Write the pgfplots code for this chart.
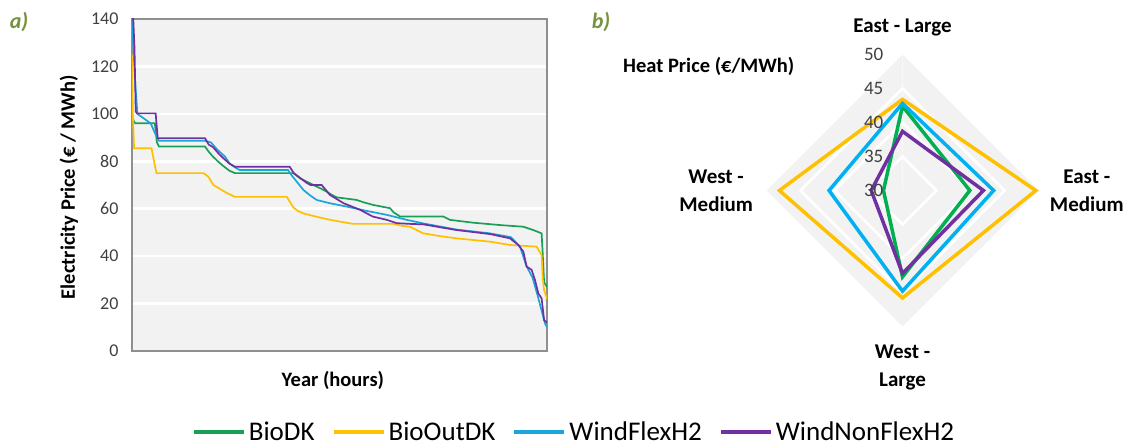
\documentclass[border=0pt]{standalone}
\usepackage{fontspec}
\setmainfont{Carlito}
\usepackage{pgfplots}
\usepackage{pgfplotstable}
\pgfplotsset{compat=1.18}

\definecolor{cGreen}{HTML}{00B050}
\definecolor{cYellow}{HTML}{FFC000}
\definecolor{cBlue}{HTML}{00B0F0}
\definecolor{cPurple}{HTML}{7030A0}
\definecolor{cOlive}{HTML}{76923C}
\definecolor{cBack}{HTML}{F2F2F2}
\definecolor{cBorder}{HTML}{8F8F8F}
\definecolor{cTick}{HTML}{404040}

\pgfplotstableread{
cat a BioDK BioOutDK WindFlexH2 WindNonFlexH2
EL 90 42.4 43.4 42.8 38.7
EM 0 39.9 49.6 43.4 41.9
WL 270 42.7 45.8 44.8 42.2
WM 180 32.8 48.1 40.8 34.6
}\radar

\tikzset{rlab/.style={anchor=east, inner sep=0pt, xshift=-19pt, font=\fontsize{19}{21}\selectfont, text=cTick}}

\begin{document}
\begin{tikzpicture}[x=1pt,y=1pt]
\node[font=\fontsize{22}{24}\selectfont\bfseries\itshape, text=cOlive] at (19,424) {a)};
\node[font=\fontsize{22}{24}\selectfont\bfseries\itshape, text=cOlive] at (601,424) {b)};

\begin{axis}[
  at={(132pt,95pt)}, anchor=south west,
  width=415pt, height=332pt, scale only axis,
  xmin=0, xmax=100, ymin=0, ymax=140,
  set layers,
  axis background/.style={fill=cBack},
  axis line style={cBorder, line width=1.8pt},
  xtick=\empty,
  ytick={0,20,...,140},
  major tick length=0pt,
  extra y ticks={20,40,...,120},
  extra y tick labels={},
  extra y tick style={grid=major},
  major grid style={white, line width=2.5pt},
  yticklabel style={font=\fontsize{18}{20}\selectfont, text=cTick, xshift=-10pt},
  /pgf/number format/assume math mode=true,
  xlabel={Year (hours)}, ylabel={Electricity Price (€ / MWh)},
  every axis x label/.style={at={(axis description cs:0.484,-0.09)}, anchor=center, font=\fontsize{20.5}{24}\selectfont\bfseries},
  every axis y label/.style={at={(axis description cs:-0.152,0.493)}, rotate=90, anchor=center, font=\fontsize{20.5}{24}\selectfont\bfseries},
  legend columns=4,
  legend style={at={(axis description cs:1.0639,-0.243)}, anchor=center, draw=none, fill=none,
    font=\fontsize{27}{29}\selectfont, nodes={inner sep=1pt},
    /tikz/every even column/.append style={column sep=16pt},
    /tikz/every odd column/.append style={column sep=2pt}},
  legend image code/.code={\draw[#1, line width=4pt] (0pt,0pt) -- (50pt,0pt);},
]
\addplot[cGreen!85!black!90, line width=1.7pt] coordinates {
(0,100) (0.4,97) (0.8,96) (5.5,96) (6.0,88) (6.5,86.2) (17.6,86.2) (18.5,84) (19.5,82) (20.8,79.8) (22,78) (23.5,76) (24.8,75) (38.9,75) (40.5,72.8) (42,71.5) (43.7,70) (45.5,68.5) (46.9,67.2) (48,66) (49.3,64.8) (54.1,63.7) (56,62.6) (58.1,61.6) (62.2,60.2) (63,58.5) (64.6,56.7) (75,56.7) (76.6,55.3) (82.2,54.1) (88.7,53.1) (94.3,52.4) (96.7,51) (98.7,49.6) (99.0,40) (99.3,29) (100,27)};
\addlegendentry{BioDK}
\addplot[cYellow, line width=1.7pt] coordinates {
(0,125) (0.2,100) (0.5,85.5) (4.7,85.5) (5.3,80) (5.9,75) (17.2,75) (18.4,73.5) (19.6,70) (20.6,69) (21.6,67.9) (23,66.5) (24.8,65) (37.3,65) (38.2,62.5) (38.9,60.5) (40,59) (41.3,58) (44.5,56.6) (47,55.6) (49.3,54.8) (53.3,53.6) (63,53.6) (65,52.8) (67,52.4) (70.2,49.6) (74,48.5) (78.2,47.5) (86.3,46.1) (91.1,44.7) (97.5,44) (98.7,40.5) (99.0,30) (99.3,25.7) (100,22)};
\addlegendentry{BioOutDK}
\addplot[cBlue!80!gray, line width=1.7pt] coordinates {
(0,140) (0.3,130) (0.7,115) (1.3,100) (2.5,98.5) (4.5,96) (5.5,92) (6.5,88.6) (17.6,88.6) (19,88) (20.5,85) (22.4,82) (23.5,79.1) (25.2,77) (26,76.3) (37.6,76.3) (38.5,74) (39.7,71.4) (41.3,67.9) (43,65.5) (44.5,63.7) (47.7,62.3) (51.7,60.9) (56.5,59.1) (61.4,57.4) (66.2,55.3) (70.2,53.8) (78.2,51.2) (86.3,49.6) (91.3,48) (93.5,44) (95,36) (96.5,31) (97.8,23) (99.5,11.7) (100,10)};
\addlegendentry{WindFlexH2}
\addplot[cPurple, line width=1.7pt] coordinates {
(0,140) (0.3,140) (0.6,128) (0.9,101) (1.2,100.2) (5.7,100.2) (6.2,89.7) (17.6,89.7) (18.5,87) (19.5,86) (21,83) (22.5,80.5) (23.5,79) (24.8,77.7) (38,77.7) (39,75) (40.5,73) (42,71) (43,70) (45.7,70) (47.7,65.8) (51,62.3) (55,59.5) (58,56.7) (61.4,55.3) (63.8,53.9) (67,53.6) (70.2,53.4) (78.2,51) (86.3,49.3) (91.1,47.5) (93.1,44.7) (94.3,41.9) (95.1,35.6) (96.3,34.2) (97.1,29.9) (97.9,24.3) (98.7,22.2) (99.3,13) (100,12)};
\addlegendentry{WindNonFlexH2}
\end{axis}

\begin{axis}[
  at={(766.5pt,119.5pt)}, anchor=south west,
  x=6.8pt, y=6.8pt,
  xmin=-20, xmax=20, ymin=-20, ymax=20,
  hide axis, clip=false,
]
\addplot[fill=cBack, draw=none] coordinates {(0,20) (20,0) (0,-20) (-20,0)} -- cycle;
\addplot[draw=white, line width=2.5pt] coordinates {(0,5) (5,0) (0,-5) (-5,0)} -- cycle;
\addplot[draw=white, line width=2.5pt] coordinates {(0,10) (10,0) (0,-10) (-10,0)} -- cycle;
\addplot[draw=white, line width=2.5pt] coordinates {(0,15) (15,0) (0,-15) (-15,0)} -- cycle;
\draw[white, densely dotted, line width=1pt] (axis cs:0,0) -- (axis cs:0,20);
\addplot[cGreen, line width=3.5pt, line join=miter] table[x expr={(\thisrow{BioDK}-30)*cos(\thisrow{a})}, y expr={(\thisrow{BioDK}-30)*sin(\thisrow{a})}] {\radar} -- cycle;
\addplot[cYellow, line width=3.5pt, line join=miter] table[x expr={(\thisrow{BioOutDK}-30)*cos(\thisrow{a})}, y expr={(\thisrow{BioOutDK}-30)*sin(\thisrow{a})}] {\radar} -- cycle;
\addplot[cBlue, line width=3.5pt, line join=miter] table[x expr={(\thisrow{WindFlexH2}-30)*cos(\thisrow{a})}, y expr={(\thisrow{WindFlexH2}-30)*sin(\thisrow{a})}] {\radar} -- cycle;
\addplot[cPurple, line width=3.5pt, line join=miter] table[x expr={(\thisrow{WindNonFlexH2}-30)*cos(\thisrow{a})}, y expr={(\thisrow{WindNonFlexH2}-30)*sin(\thisrow{a})}] {\radar} -- cycle;
\node[rlab] at (axis cs:0,0) {30};
\node[rlab] at (axis cs:0,5) {35};
\node[rlab] at (axis cs:0,10) {40};
\node[rlab] at (axis cs:0,15) {45};
\node[rlab] at (axis cs:0,20) {50};
\node[font=\fontsize{21}{28}\selectfont\bfseries, align=center] at (axis cs:0,24.0) {East - Large};
\node[font=\fontsize{21}{28}\selectfont\bfseries, align=center] at (axis cs:27.1,0) {East -\\Medium};
\node[font=\fontsize{21}{28}\selectfont\bfseries, align=center] at (axis cs:-27.4,0) {West -\\Medium};
\node[font=\fontsize{21}{28}\selectfont\bfseries, align=center] at (axis cs:0,-26.0) {West -\\Large};
\node[font=\fontsize{20.5}{24}\selectfont\bfseries] at (axis cs:-28.5,18.3) {Heat Price (€/MWh)};
\end{axis}
\pgfresetboundingbox
\path[use as bounding box] (0,0) rectangle (1125,446);
\end{tikzpicture}
\end{document}
